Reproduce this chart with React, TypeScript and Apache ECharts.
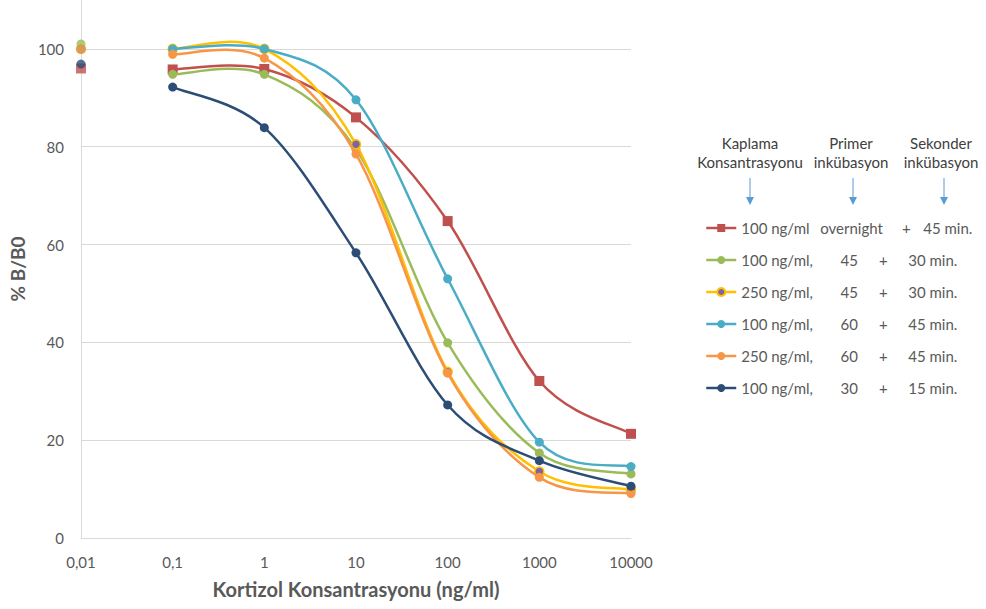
import React, { useEffect, useRef } from "react";
import * as echarts from "echarts";

const concentrations = [0.1, 1, 10, 100, 1000, 10000];
const zeroDose = 0.01;
const tickLabels = ["0,01", "0,1", "1", "10", "100", "1000", "10000"];

const seriesNames = [
  "100 ng/ml overnight + 45 min.",
  "100 ng/ml, 45 + 30 min.",
  "250 ng/ml, 45 + 30 min.",
  "100 ng/ml, 60 + 45 min.",
  "250 ng/ml, 60 + 45 min.",
  "100 ng/ml, 30 + 15 min.",
];
const kaplama = ["100 ng/ml", "100 ng/ml,", "250 ng/ml,", "100 ng/ml,", "250 ng/ml,", "100 ng/ml,"];
const primer = ["overnight", "45", "45", "60", "60", "30"];
const sekonder = ["45 min.", "30 min.", "30 min.", "45 min.", "45 min.", "15 min."];

const lineColors = ["#C0504D", "#9BBB59", "#FFC000", "#4BACC6", "#F79646", "#2C4D75"];
const markerColors = ["#C0504D", "#9BBB59", "#8064A2", "#4BACC6", "#F79646", "#2C4D75"];
const markerShapes = ["rect", "circle", "circle", "circle", "circle", "circle"];

// % B/B0 at the zero-dose point (0,01)
const zeroValues = [96.0, 101.0, 100.0, 100.0, 99.9, 96.9];

const s1 = [95.8, 95.9, 86.0, 64.8, 32.1, 21.3];
const s2 = [94.8, 94.8, 79.5, 39.9, 17.4, 13.1];
const s3 = [100.0, 100.0, 80.5, 34.0, 13.6, 9.9];
const s4 = [100.0, 100.0, 89.6, 53.0, 19.6, 14.6];
const s5 = [98.9, 98.1, 78.5, 33.7, 12.4, 9.1];
const s6 = [92.2, 83.9, 58.3, 27.2, 15.8, 10.6];
const allSeries = [s1, s2, s3, s4, s5, s6];

const headers = [
  { x: 750, lines: ["Kaplama", "Konsantrasyonu"], arrowX: 750 },
  { x: 851, lines: ["Primer", "inkübasyon"], arrowX: 853 },
  { x: 941, lines: ["Sekonder", "inkübasyon"], arrowX: 944 },
];

const FONT = "Lato, 'Noto Sans', sans-serif";

export default function App() {
  const ref = useRef<HTMLDivElement>(null);

  useEffect(() => {
    if (!ref.current) return;
    const chart = echarts.init(ref.current, undefined, { renderer: "svg" });

    // Smooth curves (Excel-like Catmull-Rom Bezier), drawn through the axes via api.coord
    const curveSeries = allSeries.map((vals, i) => ({
      name: seriesNames[i] + " (curve)",
      type: "custom",
      silent: true,
      z: 2 + 2 * i,
      encode: { x: 0, y: 1 },
      data: concentrations.map((c, j) => [c, vals[j]]),
      renderItem: (params: any, api: any) => {
        const j = params.dataIndex;
        const n = vals.length;
        if (j >= n - 1) return null;
        const P = (k: number) => {
          const kk = Math.max(0, Math.min(n - 1, k));
          return api.coord([concentrations[kk], vals[kk]]);
        };
        const p0 = P(j - 1);
        const p1 = P(j);
        const p2 = P(j + 1);
        const p3 = P(j + 2);
        return {
          type: "bezierCurve",
          shape: {
            x1: p1[0],
            y1: p1[1],
            x2: p2[0],
            y2: p2[1],
            cpx1: p1[0] + (p2[0] - p0[0]) / 6,
            cpy1: p1[1] + (p2[1] - p0[1]) / 6,
            cpx2: p2[0] - (p3[0] - p1[0]) / 6,
            cpy2: p2[1] - (p3[1] - p1[1]) / 6,
          },
          style: { stroke: lineColors[i], lineWidth: 2.5, fill: "none", lineCap: "round" },
        };
      },
    }));

    const markerSeries = allSeries.map((vals, i) => ({
      name: seriesNames[i],
      type: "line",
      data: concentrations.map((c, j) => [c, vals[j]]),
      symbol: markerShapes[i],
      symbolSize: markerShapes[i] === "rect" ? 10 : 9,
      showSymbol: true,
      clip: false,
      lineStyle: { color: lineColors[i], width: 2.5, opacity: 0 },
      itemStyle: {
        color: markerColors[i],
        borderColor: lineColors[i],
        borderWidth: i === 2 ? 1.5 : 0,
      },
      z: 3 + 2 * i,
    }));

    const zeroSeries = {
      name: "zero",
      type: "scatter",
      clip: false,
      z: 20,
      data: zeroValues.map((v, i) => ({
        value: [zeroDose, v],
        symbol: markerShapes[i],
        symbolSize: markerShapes[i] === "rect" ? 10 : 9,
        itemStyle: {
          color: markerColors[i],
          borderColor: lineColors[i],
          borderWidth: i === 2 ? 1.5 : 0,
        },
      })),
    };

    const base = { fontFamily: FONT, fontSize: 15, color: "#595959", lineHeight: 20 };
    const rich: any = {
      a1: { ...base, width: 79 },
      o1: { ...base, width: 77 },
      p1: { ...base, width: 18, align: "center" },
      m1: { ...base, padding: [0, 0, 0, 8] },
      a: { ...base, width: 90 },
      n: { ...base, width: 36, align: "center" },
      p: { ...base, width: 32, align: "center" },
      m: { ...base, padding: [0, 0, 0, 9] },
    };

    const graphics: any[] = [];
    headers.forEach((h) => {
      h.lines.forEach((t, k) => {
        graphics.push({
          type: "text",
          x: h.x,
          y: 143 + k * 19,
          style: {
            text: t,
            fontFamily: FONT,
            fontSize: 15,
            fill: "#404040",
            textAlign: "center",
            textVerticalAlign: "middle",
          },
        });
      });
      graphics.push({
        type: "line",
        shape: { x1: h.arrowX, y1: 178, x2: h.arrowX, y2: 198 },
        style: { stroke: "#5B9BD5", lineWidth: 1 },
      });
      graphics.push({
        type: "polygon",
        shape: { points: [[h.arrowX - 4, 197], [h.arrowX + 4, 197], [h.arrowX, 205]] },
        style: { fill: "#5B9BD5" },
      });
    });

    chart.setOption({
      animation: false,
      backgroundColor: "#ffffff",
      textStyle: { fontFamily: FONT },
      grid: { left: 80, right: 355, top: 0, bottom: 71, containLabel: false },
      legend: {
        data: seriesNames.map((n, i) => ({
          name: n,
          lineStyle: { color: lineColors[i], width: 2.5, opacity: 1 },
        })),
        orient: "vertical",
        left: 705,
        top: 218,
        itemWidth: 30,
        itemHeight: 10,
        itemGap: 12,
        padding: 0,
        selectedMode: false,
        textStyle: { ...base, rich },
        formatter: (name: string) => {
          const i = seriesNames.indexOf(name);
          if (i === 0) {
            return `{a1|${kaplama[i]}}{o1|${primer[i]}}{p1|+}{m1|${sekonder[i]}}`;
          }
          return `{a|${kaplama[i]}}{n|${primer[i]}}{p|+}{m|${sekonder[i]}}`;
        },
      },
      xAxis: {
        type: "log",
        logBase: 10,
        min: 0.01,
        max: 10000,
        name: "Kortizol Konsantrasyonu (ng/ml)",
        nameLocation: "middle",
        nameGap: 41,
        nameTextStyle: { fontFamily: FONT, fontSize: 20, fontWeight: "bold", color: "#595959" },
        axisLine: { show: true, lineStyle: { color: "#D9D9D9", width: 1 } },
        axisTick: { show: false },
        splitLine: { show: false },
        axisLabel: {
          margin: 16,
          fontFamily: FONT,
          fontSize: 15,
          color: "#595959",
          formatter: (v: number) => {
            const k = Math.round(Math.log10(v)) + 2;
            return tickLabels[k] ?? "";
          },
        },
      },
      yAxis: {
        type: "value",
        min: 0,
        max: 110,
        interval: 20,
        name: "% B/B0",
        nameLocation: "middle",
        nameGap: 50,
        nameTextStyle: { fontFamily: FONT, fontSize: 19, fontWeight: "bold", color: "#595959" },
        axisLine: { show: true, lineStyle: { color: "#D9D9D9", width: 1 } },
        axisTick: { show: false },
        splitLine: { show: true, showMaxLine: false, lineStyle: { color: "#D9D9D9", width: 1 } },
        axisLabel: {
          margin: 17,
          showMaxLabel: false,
          fontFamily: FONT,
          fontSize: 15,
          color: "#595959",
          formatter: (v: number) => (v % 20 === 0 ? String(v) : ""),
        },
      },
      graphic: graphics,
      series: [...curveSeries, ...markerSeries, zeroSeries],
    });

    return () => chart.dispose();
  }, []);

  return (
    <div
      ref={ref}
      style={{ position: "fixed", left: 0, top: 0, width: 986, height: 609, background: "#fff" }}
    />
  );
}
